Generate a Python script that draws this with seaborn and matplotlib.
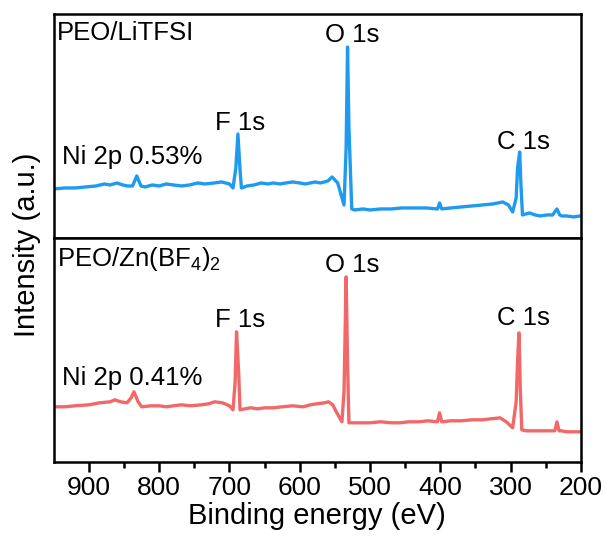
import numpy as np
import pandas as pd
import seaborn as sns
import matplotlib.pyplot as plt
from matplotlib.ticker import FixedLocator

# ------------------------------- datos leidos ------------------------------- #
# energia de enlace (eV) e intensidad (u.a.) para cada espectro
energia_litfsi = [950, 935, 920, 905, 890, 878, 870, 860, 852, 845, 838, 832, 826, 820, 810,
                  800, 790, 780, 768, 757, 745, 735, 722, 711, 700, 695, 691, 688, 685, 683,
                  675, 665, 655, 645, 638, 628, 620, 610, 600, 592, 585, 578, 571, 565, 560,
                  554, 546, 537, 534, 532, 530, 526, 522, 510, 500, 485, 470, 455, 440, 420,
                  404, 401, 398, 385, 370, 355, 340, 325, 311, 303, 297, 292, 290, 287, 285,
                  283, 278, 273, 265, 258, 248, 240, 234, 230, 227, 220, 210, 201]
intensidad_litfsi = [49, 50, 50, 51, 52, 54, 53, 55, 53, 52, 52, 62, 52, 51, 53,
                     52, 54, 53, 52, 53, 55, 54, 55, 56, 54, 50, 70, 104, 68, 50,
                     52, 53, 55, 54, 55, 54, 55, 56, 55, 54, 55, 56, 55, 56, 57,
                     61, 55, 33, 90, 191, 110, 29, 28, 29, 28, 29, 29, 30, 30, 30,
                     29, 35, 29, 30, 31, 32, 33, 34, 36, 33, 26, 40, 70, 86, 50,
                     23, 24, 25, 23, 22, 23, 23, 29, 23, 22, 22, 21, 22]

energia_zn = [950, 935, 920, 900, 885, 870, 863, 855, 846, 840, 836, 830, 825, 812, 800,
              790, 780, 768, 756, 740, 730, 721, 710, 700, 695, 692, 690, 687, 685, 678,
              670, 660, 650, 638, 625, 610, 595, 585, 576, 565, 559, 553, 548, 540, 537,
              534, 532, 530, 515, 500, 485, 470, 458, 445, 430, 418, 404, 401, 398, 385,
              370, 355, 340, 328, 315, 306, 297, 292, 290, 288, 286, 284, 278, 270, 260,
              248, 237, 234, 231, 228, 220, 210, 201]
intensidad_zn = [55, 55, 56, 57, 59, 60, 62, 60, 59, 64, 70, 60, 55, 56, 56,
                 55, 56, 57, 56, 57, 58, 60, 59, 56, 52, 80, 130, 90, 52, 53,
                 54, 53, 54, 54, 55, 56, 55, 57, 58, 59, 60, 57, 50, 40, 70,
                 185, 100, 39, 39, 39, 40, 39, 39, 40, 40, 41, 40, 49, 40, 41,
                 41, 42, 42, 43, 44, 40, 34, 60, 100, 129, 70, 32, 31, 31, 31,
                 31, 31, 40, 31, 31, 30, 30, 30]

etiquetas_picos = ["F 1s", "O 1s", "C 1s"]
pos_picos_litfsi = [(685, 115), (526, 203), (281, 96)]
pos_picos_zn = [(685, 142), (526, 197), (281, 144)]

titulo_litfsi = "PEO/LiTFSI"
titulo_zn = "PEO/Zn(BF$_4$)$_2$"
ni_litfsi = "Ni 2p 0.53%"
ni_zn = "Ni 2p 0.41%"

AZUL = "#1E9BEF"
ROJO = "#F26868"

# ---------------------------------- estilo ---------------------------------- #
sns.set_theme(style="white")
plt.rcParams["font.family"] = ["Liberation Sans", "DejaVu Sans"]
plt.rcParams["mathtext.fontset"] = "custom"
plt.rcParams["mathtext.rm"] = "Liberation Sans"
plt.rcParams["mathtext.it"] = "Liberation Sans"
plt.rcParams["text.color"] = "black"
plt.rcParams["axes.labelcolor"] = "black"
plt.rcParams["xtick.color"] = "black"

fig, (ax1, ax2) = plt.subplots(2, 1, sharex=True, figsize=(6.05, 5.42), dpi=100)
fig.subplots_adjust(left=0.089, right=0.960, top=0.974, bottom=0.148, hspace=0)

df_litfsi = pd.DataFrame({"energia": energia_litfsi, "intensidad": intensidad_litfsi})
df_zn = pd.DataFrame({"energia": energia_zn, "intensidad": intensidad_zn})

sns.lineplot(data=df_litfsi, x="energia", y="intensidad", ax=ax1, color=AZUL,
             linewidth=2.4, estimator=None)
sns.lineplot(data=df_zn, x="energia", y="intensidad", ax=ax2, color=ROJO,
             linewidth=2.4, estimator=None)

# etiquetas de picos
for ax, pos, titulo, ni in [(ax1, pos_picos_litfsi, titulo_litfsi, ni_litfsi),
                            (ax2, pos_picos_zn, titulo_zn, ni_zn)]:
    for etiqueta, (x, y) in zip(etiquetas_picos, pos):
        ax.text(x, y, etiqueta, ha="center", va="center", fontsize=18.5)
    ax.text(946, 205 if ax is ax1 else 203, titulo, ha="left", va="center", fontsize=18.5)
    ax.text(939, 81 if ax is ax1 else 84, ni, ha="left", va="center", fontsize=18.5)

    ax.set_ylim(0, 224)
    ax.set_yticks([])
    ax.set_ylabel("")
    ax.set_xlabel("")
    for s in ax.spines.values():
        s.set_linewidth(1.8)
        s.set_color("black")

ax1.set_xlim(950, 200)
ax2.xaxis.set_major_locator(FixedLocator([900, 800, 700, 600, 500, 400, 300, 200]))
ax2.xaxis.set_minor_locator(FixedLocator([850, 750, 650, 550, 450, 350, 250]))
ax1.tick_params(axis="x", which="both", bottom=False, labelbottom=False)
ax2.tick_params(axis="x", which="major", direction="out", length=7, width=1.8,
                labelsize=19, pad=3, bottom=True)
ax2.tick_params(axis="x", which="minor", direction="out", length=4, width=1.8, bottom=True)
ax2.set_xlabel("Binding energy (eV)", fontsize=21, labelpad=2)

fig.text(0.045, 0.548, "Intensity (a.u.)", rotation=90, ha="center", va="center", fontsize=21)

plt.savefig("out.png", dpi=100)
